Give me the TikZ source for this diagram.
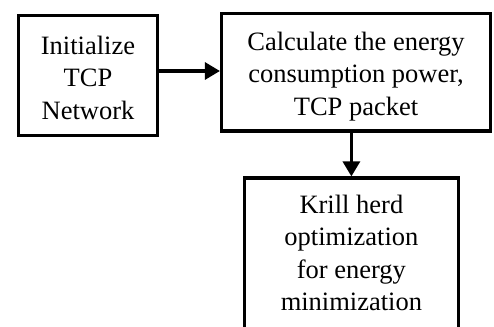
\documentclass[tikz,border=0pt]{standalone}
\usepackage{fontspec}
\setmainfont{Liberation Serif}
\usetikzlibrary{arrows.meta}
\begin{document}
\begin{tikzpicture}[x=1pt,y=-1pt,
  box/.style={draw=black,line width=3.2pt,align=center,inner sep=0pt,
    font=\fontsize{26.5}{32.4}\selectfont},
  arr/.style={line width=3.2pt,-{Triangle[length=15pt,width=17pt]}}]
\useasboundingbox (0,0) rectangle (494,326);
\node[box,minimum width=139pt,minimum height=119.5pt] (a) at (88,75.4)
  {\rule{0pt}{23pt}Initialize\\TCP\\Network};
\node[box,minimum width=269pt,minimum height=117.2pt] (b) at (356,72.4)
  {\rule{0pt}{26.5pt}Calculate the energy\\consumption power,\\TCP packet};
\node[box,minimum width=214pt,minimum height=154pt] (c) at (351.4,255)
  {Krill herd\\optimization\\for energy\\minimization\rule[-4pt]{0pt}{4pt}};
\draw[arr] ([yshift=4.4pt]a.east) -- ([yshift=4.4pt]a.east -| b.west);
\draw[arr] (c.north |- b.south) -- (c.north);
\end{tikzpicture}
\end{document}
